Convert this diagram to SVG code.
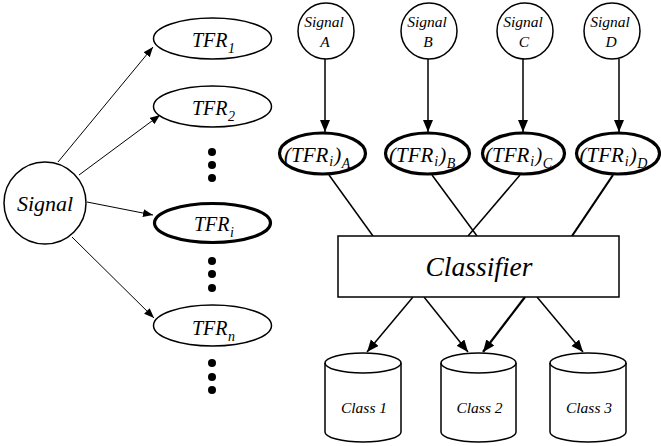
<svg xmlns="http://www.w3.org/2000/svg" width="661" height="446" viewBox="0 0 661 446">
<style>
text{font-family:'Liberation Serif','Times New Roman',serif;font-style:italic;fill:#000}
.sub{font-size:14px}
.n{fill:#fff;stroke:#000;stroke-width:1.5}
.b{fill:#fff;stroke:#000;stroke-width:3.2}
.c{fill:none;stroke:#000;stroke-width:1.5}
.t{fill:none;stroke:#000;stroke-width:1}
.k{fill:none;stroke:#000;stroke-width:2.2}
.dot{fill:#000}
</style>
<defs>
<marker id="ah" markerUnits="userSpaceOnUse" markerWidth="13" markerHeight="11" refX="12" refY="5" orient="auto"><path d="M0,0 L12,5 L0,10 z" fill="#000"/></marker>
<marker id="ahs" markerUnits="userSpaceOnUse" markerWidth="11" markerHeight="9" refX="10" refY="4" orient="auto"><path d="M0,0 L10,4 L0,8 z" fill="#000"/></marker>
</defs>
<g id="connectors">
<line class="t" x1="58" y1="162" x2="153" y2="47" marker-end="url(#ahs)"/>
<line class="t" x1="79" y1="175" x2="160" y2="115" marker-end="url(#ahs)"/>
<line class="t" x1="87" y1="202" x2="153" y2="215" marker-end="url(#ahs)"/>
<line class="t" x1="72" y1="237" x2="154" y2="318" marker-end="url(#ahs)"/>
<line class="c" x1="325" y1="59" x2="325" y2="132" marker-end="url(#ah)"/>
<line class="c" x1="428" y1="59" x2="428" y2="132" marker-end="url(#ah)"/>
<line class="c" x1="523" y1="59" x2="523" y2="132" marker-end="url(#ah)"/>
<line class="c" x1="619" y1="59" x2="619" y2="132" marker-end="url(#ah)"/>
<line class="c" x1="329" y1="175" x2="373" y2="236"/>
<line class="c" x1="432" y1="175" x2="477" y2="236"/>
<line class="c" x1="520" y1="175" x2="468" y2="236"/>
<line class="k" x1="613" y1="175" x2="572" y2="236"/>
<line class="c" x1="413" y1="297" x2="367" y2="352" marker-end="url(#ah)"/>
<line class="c" x1="424" y1="297" x2="468" y2="352" marker-end="url(#ah)"/>
<line class="k" x1="525" y1="297" x2="483" y2="352" marker-end="url(#ah)"/>
<line class="c" x1="537" y1="297" x2="583" y2="352" marker-end="url(#ah)"/>
</g>
<g id="signal">
<circle class="n" cx="45" cy="203" r="41"/>
<text x="45" y="211" font-size="22" text-anchor="middle">Signal</text>
</g>
<g id="tfr1">
<ellipse class="n" cx="212.5" cy="38.5" rx="59" ry="20.5"/>
<text x="192" y="47" font-size="20">TFR<tspan class="sub" dx="0.5" dy="6">1</tspan></text>
</g>
<g id="tfr2">
<ellipse class="n" cx="212.5" cy="106.5" rx="59" ry="20.5"/>
<text x="192" y="115" font-size="20">TFR<tspan class="sub" dx="0.5" dy="6">2</tspan></text>
</g>
<g id="dots1">
<circle class="dot" cx="212" cy="152" r="4"/>
<circle class="dot" cx="212" cy="165" r="4"/>
<circle class="dot" cx="212" cy="178" r="4"/>
</g>
<g id="tfri">
<ellipse class="b" cx="212.5" cy="223" rx="58" ry="19.5"/>
<text x="194" y="231" font-size="20">TFR<tspan class="sub" dx="0.5" dy="6">i</tspan></text>
</g>
<g id="dots2">
<circle class="dot" cx="212" cy="261" r="4"/>
<circle class="dot" cx="212" cy="274" r="4"/>
<circle class="dot" cx="212" cy="288" r="4"/>
</g>
<g id="tfrn">
<ellipse class="n" cx="212.5" cy="325.5" rx="59" ry="20.5"/>
<text x="192" y="335" font-size="20">TFR<tspan class="sub" dx="0.5" dy="6">n</tspan></text>
</g>
<g id="dots3">
<circle class="dot" cx="212" cy="363" r="4"/>
<circle class="dot" cx="212" cy="377" r="4"/>
<circle class="dot" cx="212" cy="390" r="4"/>
</g>
<g id="signalA">
<circle class="n" cx="326" cy="31" r="28"/>
<text x="324" y="27" font-size="15.5" text-anchor="middle">Signal</text>
<text x="325" y="47" font-size="15.5" text-anchor="middle">A</text>
</g>
<g id="signalB">
<circle class="n" cx="429" cy="31" r="28"/>
<text x="427" y="27" font-size="15.5" text-anchor="middle">Signal</text>
<text x="428" y="47" font-size="15.5" text-anchor="middle">B</text>
</g>
<g id="signalC">
<circle class="n" cx="525" cy="31" r="28"/>
<text x="523" y="27" font-size="15.5" text-anchor="middle">Signal</text>
<text x="524" y="47" font-size="15.5" text-anchor="middle">C</text>
</g>
<g id="signalD">
<circle class="n" cx="612" cy="31" r="28"/>
<text x="610" y="27" font-size="15.5" text-anchor="middle">Signal</text>
<text x="611" y="47" font-size="15.5" text-anchor="middle">D</text>
</g>
<g id="tfriA">
<ellipse class="b" cx="322.5" cy="153.5" rx="43" ry="20.5"/>
<text x="284" y="162" font-size="21">(TFR<tspan class="sub" dx="1" dy="4">i</tspan><tspan dx="1" dy="-4">)</tspan><tspan class="sub" dx="0.5" dy="6">A</tspan></text>
</g>
<g id="tfriB">
<ellipse class="b" cx="427.5" cy="153.5" rx="42" ry="20.5"/>
<text x="389" y="162" font-size="21">(TFR<tspan class="sub" dx="1" dy="4">i</tspan><tspan dx="1" dy="-4">)</tspan><tspan class="sub" dx="0.5" dy="6">B</tspan></text>
</g>
<g id="tfriC">
<ellipse class="b" cx="523.5" cy="153.5" rx="41" ry="20.5"/>
<text x="485" y="162" font-size="21">(TFR<tspan class="sub" dx="1" dy="4">i</tspan><tspan dx="1" dy="-4">)</tspan><tspan class="sub" dx="0.5" dy="6">C</tspan></text>
</g>
<g id="tfriD">
<ellipse class="b" cx="618" cy="153.5" rx="41.5" ry="20.5"/>
<text x="579.5" y="162" font-size="21">(TFR<tspan class="sub" dx="1" dy="4">i</tspan><tspan dx="1" dy="-4">)</tspan><tspan class="sub" dx="0.5" dy="6">D</tspan></text>
</g>
<g id="classifier">
<rect class="n" x="338" y="236" width="281" height="61"/>
<text x="479" y="276" font-size="27.5" text-anchor="middle">Classifier</text>
</g>
<g id="class1">
<path class="n" d="M325,363 L325,432 A38,10 0 0 0 401,432 L401,363 A38,10 0 0 0 325,363 Z"/>
<path class="c" d="M325,363 A38,10 0 0 0 401,363"/>
<text x="364" y="413" font-size="15.5" text-anchor="middle">Class 1</text>
</g>
<g id="class2">
<path class="n" d="M441,363 L441,432 A37.5,10 0 0 0 516,432 L516,363 A37.5,10 0 0 0 441,363 Z"/>
<path class="c" d="M441,363 A37.5,10 0 0 0 516,363"/>
<text x="479.5" y="413" font-size="15.5" text-anchor="middle">Class 2</text>
</g>
<g id="class3">
<path class="n" d="M550,363 L550,432 A38,10 0 0 0 626,432 L626,363 A38,10 0 0 0 550,363 Z"/>
<path class="c" d="M550,363 A38,10 0 0 0 626,363"/>
<text x="589" y="413" font-size="15.5" text-anchor="middle">Class 3</text>
</g>
</svg>
